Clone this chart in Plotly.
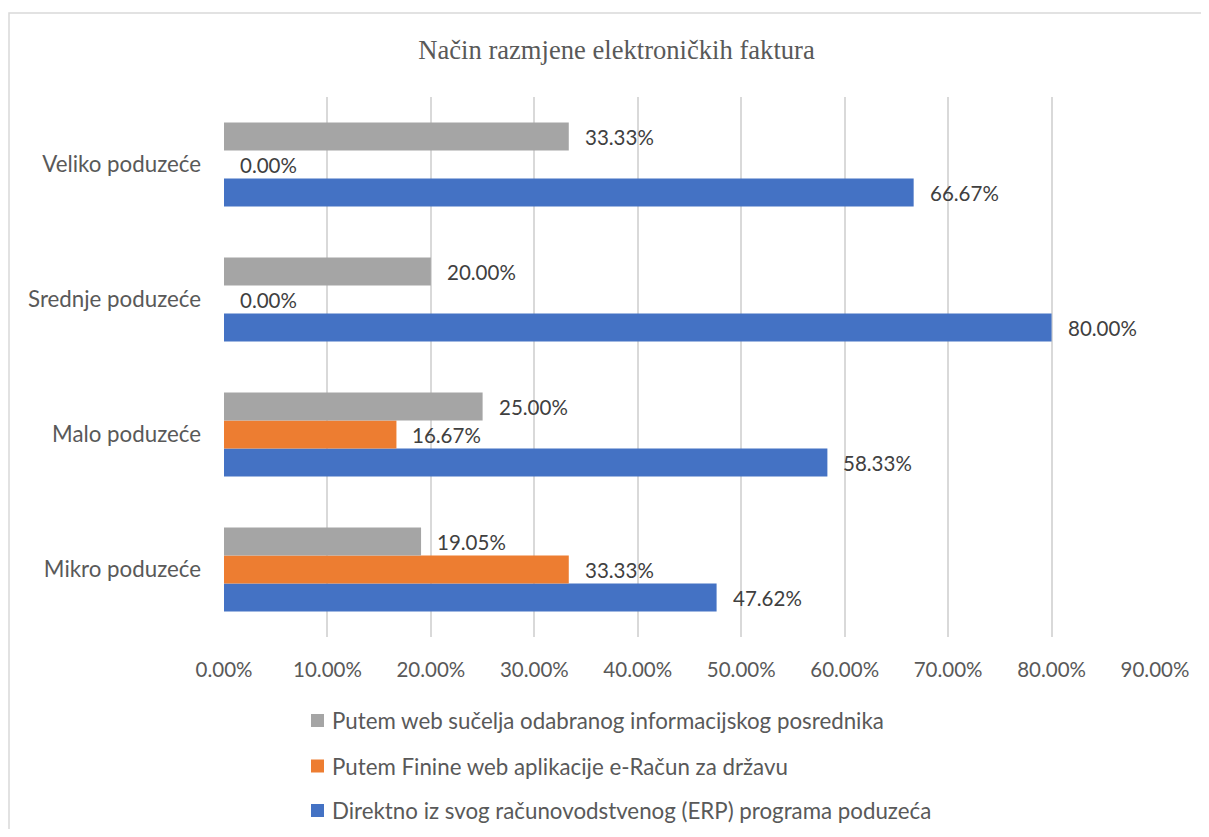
import plotly.graph_objects as go

categories = ["Mikro poduzeće", "Malo poduzeće", "Srednje poduzeće", "Veliko poduzeće"]
series_names = [
    "Direktno iz svog računovodstvenog (ERP) programa poduzeća",
    "Putem Finine web aplikacije e-Račun za državu",
    "Putem web sučelja odabranog informacijskog posrednika",
]
direktno = [0.4762, 0.5833, 0.8000, 0.6667]
finine = [0.3333, 0.1667, 0.0000, 0.0000]
posrednik = [0.1905, 0.2500, 0.2000, 0.3333]
colors = ["#4472C4", "#ED7D31", "#A5A5A5"]
title_text = "Način razmjene elektroničkih faktura"

OFF = 8  # browser page margin (body margin on every side)
W, H = 1209 - 2 * OFF, 837 - 2 * OFF
L, T = 224 - OFF, 97 - OFF
R = W - (1155 - OFF)
B = H - (637 - OFF)
pw, ph = W - L - R, H - T - B

NUM_FONT = dict(family="Lato", size=20.5, color="#404040")
TXT_SIZE = 22.3


def px_x(p):
    return (p - OFF - L) / pw


def px_y(p):
    return (H - B - (p - OFF)) / ph


fig = go.Figure()
all_series = [direktno, finine, posrednik]
yshifts = [-28, 0, 28]
legend_rows = [810.5, 766, 720.5]  # page y of legend rows (blue bottom, gray top)
annotations = []
shapes = [dict(type="rect", xref="paper", yref="paper",
               x0=px_x(9), x1=px_x(1250), y0=px_y(900), y1=px_y(13),
               line=dict(color="#d9d9d9", width=1.5), fillcolor="rgba(0,0,0,0)",
               layer="below")]
for i, (name, vals) in enumerate(zip(series_names, all_series)):
    fig.add_trace(go.Bar(
        y=categories, x=vals, name=name, orientation="h",
        marker=dict(color=colors[i], line=dict(width=0)),
        showlegend=False, hoverinfo="skip",
    ))
    for c, v in zip(categories, vals):
        annotations.append(dict(
            x=v, y=c, xref="x", yref="y", text=f"{v*100:.2f}%",
            showarrow=False, xanchor="left", yanchor="middle",
            xshift=14, yshift=yshifts[i], font=NUM_FONT,
        ))
    ry = legend_rows[i]
    shapes.append(dict(type="rect", xref="paper", yref="paper",
                       x0=px_x(311), x1=px_x(324), y0=px_y(ry + 6.5), y1=px_y(ry - 6.5),
                       line=dict(width=0), fillcolor=colors[i]))
    annotations.append(dict(
        x=px_x(330), y=px_y(ry), xref="paper", yref="paper", text=name,
        showarrow=False, xanchor="left", yanchor="middle",
        font=dict(family="Lato", size=TXT_SIZE, color="#595959"),
    ))

fig.update_layout(
    width=W, height=H,
    margin=dict(l=L, r=R, t=T, b=B),
    paper_bgcolor="white", plot_bgcolor="white",
    barmode="group", bargap=0.378, bargroupgap=0,
    showlegend=False,
    font=dict(family="Lato", size=TXT_SIZE, color="#595959"),
    title=dict(text=title_text, x=(616.5 - OFF) / W, xref="container", xanchor="center",
               y=1 - (50 - OFF) / H, yref="container", yanchor="middle",
               font=dict(family="Liberation Serif", size=26.6, color="#595959")),
    xaxis=dict(range=[0, 0.9], dtick=0.1, tickformat=".2%", showgrid=True,
               gridcolor="#d9d9d9", gridwidth=1.5, zeroline=False, showline=False,
               ticks="", ticklabelstandoff=18,
               tickfont=dict(family="Lato", size=20.5, color="#595959")),
    yaxis=dict(showgrid=False, zeroline=False, showline=False, ticks="",
               ticklabelstandoff=22,
               tickfont=dict(family="Lato", size=TXT_SIZE, color="#595959")),
    annotations=annotations,
    shapes=shapes,
)

fig.write_html("out.html")
